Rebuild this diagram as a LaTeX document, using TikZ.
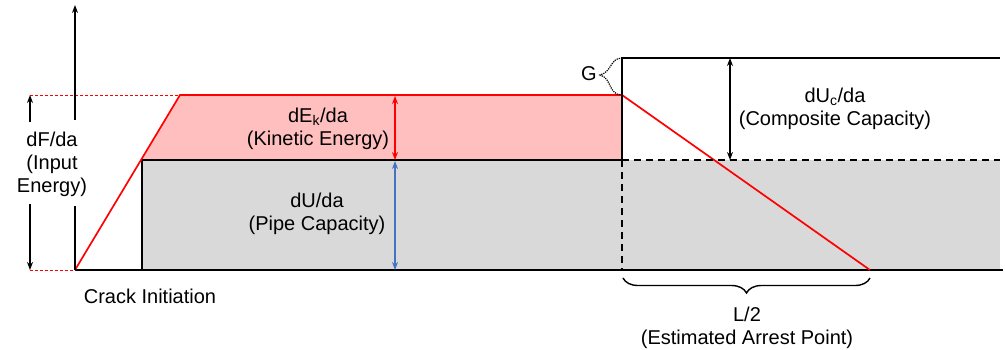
\documentclass[tikz,border=0pt]{standalone}
\usepackage{fontspec}
\setmainfont{Liberation Sans}
\usetikzlibrary{arrows.meta,decorations.pathreplacing}
\definecolor{pinkfill}{RGB}{255,191,191}
\definecolor{greyfill}{RGB}{217,217,217}
\definecolor{bluearr}{RGB}{68,114,196}
\begin{document}
\begin{tikzpicture}[x=1pt,y=-1pt,
  lbl/.style={font=\fontsize{20}{23}\selectfont,align=center,inner sep=1pt},
  tip/.style={-{Stealth[length=8pt,width=6pt]}},
  dtip/.style={{Stealth[length=8pt,width=6pt]}-{Stealth[length=8pt,width=6pt]}},
  redline/.style={red,line width=1.7pt},
  blk/.style={black,line width=1.7pt}]
\useasboundingbox (0,0) rectangle (1005,349);
% key points
\coordinate (O) at (75,270);
\coordinate (Ytop) at (75,5);
\coordinate (A) at (142,160);
\coordinate (B) at (180,95);
\coordinate (C) at (622,95);
\coordinate (D) at (622,160);
\coordinate (E) at (622,270);
\coordinate (Abot) at (142,270);
\coordinate (F) at (870,270);
\coordinate (Top) at (622,58);
\coordinate (TopR) at (1000,58);
\coordinate (DR) at (1000,160);
\coordinate (ER) at (1000,270);
\coordinate (Xend) at (1003,270);
% fills
\fill[pinkfill] (A) -- (B) -- (C) -- (D) -- cycle;
\fill[greyfill] (A) rectangle (E);
\fill[greyfill] (D) rectangle (ER);
% grey box border
\draw[blk] (Abot) -- (A) -- (D);
\draw[blk,dash pattern=on 7pt off 5pt] (D) -- (E);
% baseline
\draw[blk] (O) -- (Xend);
% red dashed guides
\coordinate (L1) at (30,95);
\coordinate (L0) at (30,270);
\draw[red,dash pattern=on 3pt off 2pt,line width=0.8pt] (L1) -- (B);
\draw[red,dash pattern=on 3pt off 2pt,line width=0.8pt] (L0) -- (O);
% red lines
\draw[redline] (O) -- (B) -- (C) -- (F);
% composite capacity outline
\draw[blk] (D) -- (Top) -- (TopR);
\draw[blk,dash pattern=on 7pt off 5pt] (D) -- (DR);
% vertical axis with label gap
\node[lbl] (dF) at (52,164) {dF/da\\(Input\\Energy)};
\draw[blk,tip] (O) -- (75,206) (75,120) -- (Ytop);
\draw[blk,tip] (30,122) -- (L1);
\draw[blk,tip] (30,204) -- (L0);
% inner arrows
\coordinate (KT) at (395,96);
\coordinate (KB) at (395,160);
\coordinate (UT) at (395,161);
\coordinate (UB) at (395,270);
\draw[red,line width=1.5pt,dtip] (KT) -- (KB);
\draw[bluearr,line width=1.5pt,dtip] (UT) -- (UB);
\coordinate (CT) at (730,58);
\coordinate (CB) at (730,160);
\draw[blk,line width=1.5pt,dtip] (CT) -- (CB);
% labels
\node[lbl] (ke) at (318,129) {dE\textsubscript{k}/da\\(Kinetic Energy)};
\node[lbl] (pc) at (317,214) {dU/da\\(Pipe Capacity)};
\node[lbl] (cc) at (835,109) {dU\textsubscript{c}/da\\(Composite Capacity)};
\node[lbl] (ci) at (150,296) {Crack Initiation};
\node[lbl] (G) at (589,74) {G};
% dotted brace for G
\coordinate (Gtip) at (600,75);
\draw[densely dotted,line width=1.2pt] (Top) .. controls (610,58) and (612,72) .. (Gtip)
  .. controls (612,78) and (608,95) .. (C);
\coordinate (BL) at (623,278);
\coordinate (BR) at (870,278);
\draw[line width=1.4pt,decorate,decoration={brace,amplitude=15pt,mirror}] (BL) -- (BR);
\node[lbl] (arr) at (747,328) {L/2\\(Estimated Arrest Point)};
\end{tikzpicture}
\end{document}
